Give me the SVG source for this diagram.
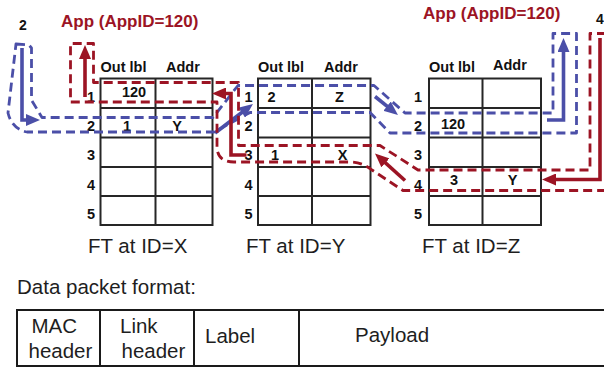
<svg xmlns="http://www.w3.org/2000/svg" width="604" height="368" viewBox="0 0 604 368">
  <style>
    .grid { fill: none; stroke: #262626; stroke-width: 2; }
    .hdr { font-family: "Liberation Sans", Arial, sans-serif; font-size: 14.5px; font-weight: bold; fill: #111; }
    .num { font-family: "Liberation Sans", Arial, sans-serif; font-size: 14.5px; font-weight: bold; fill: #111; text-anchor: end; }
    .cell { font-family: "Liberation Sans", Arial, sans-serif; font-size: 14.5px; font-weight: bold; fill: #111; text-anchor: middle; }
    .cap { font-family: "Liberation Sans", Arial, sans-serif; font-size: 20.5px; fill: #1e1e1e; }
    .app { font-family: "Liberation Sans", Arial, sans-serif; font-size: 17px; font-weight: bold; fill: #9c1424; }
    .hop { font-family: "Liberation Sans", Arial, sans-serif; font-size: 14px; font-weight: bold; fill: #111; }
    .pkt { fill: none; stroke: #1a1a1a; stroke-width: 2; }
    .dash-blue { fill: none; stroke: #4b4fa8; stroke-width: 2.8; stroke-dasharray: 9 5; stroke-linejoin: round; }
    .dash-red { fill: none; stroke: #9c1424; stroke-width: 2.8; stroke-dasharray: 9 5; stroke-linejoin: round; }
    .arrow-blue { fill: none; stroke: #4b4fa8; stroke-width: 3.6; marker-end: url(#head-blue); }
    .arrow-red { fill: none; stroke: #9c1424; stroke-width: 3.6; marker-end: url(#head-red); }
  </style>
  <defs>
    <marker id="head-blue" markerUnits="userSpaceOnUse" markerWidth="14" markerHeight="12" refX="7" refY="6" orient="auto">
      <path d="M0,0 L14,6 L0,12 z" fill="#4b4fa8"/>
    </marker>
    <marker id="head-red" markerUnits="userSpaceOnUse" markerWidth="14" markerHeight="12" refX="7" refY="6" orient="auto">
      <path d="M0,0 L14,6 L0,12 z" fill="#9c1424"/>
    </marker>
  </defs>
  <rect width="604" height="368" fill="#ffffff"/>

  <!-- forwarding table at node X -->
  <g id="ft-x">
    <rect class="grid" x="100.5" y="78.5" width="112" height="146.5"/>
    <path class="grid" d="M155.5,78.5 V225 M100.5,108 H212.5 M100.5,137.5 H212.5 M100.5,167 H212.5 M100.5,196 H212.5"/>
    <text class="hdr" x="100.5" y="71.7">Out lbl</text>
    <text class="hdr" x="166" y="71.7">Addr</text>
    <text class="num" x="95" y="101.5">1</text>
    <text class="num" x="95" y="130.5">2</text>
    <text class="num" x="95" y="160">3</text>
    <text class="num" x="95" y="189.5">4</text>
    <text class="num" x="95" y="219">5</text>
    <text class="cell" x="134" y="97">120</text>
    <text class="cell" x="127" y="131">1</text>
    <text class="cell" x="177" y="131">Y</text>
    <text class="cap" x="88" y="253">FT at ID=X</text>
  </g>

  <!-- forwarding table at node Y -->
  <g id="ft-y">
    <rect class="grid" x="258" y="78.5" width="112.5" height="146.5"/>
    <path class="grid" d="M312,78.5 V225 M258,108 H370.5 M258,137.5 H370.5 M258,167 H370.5 M258,196 H370.5"/>
    <text class="hdr" x="258" y="71.7">Out lbl</text>
    <text class="hdr" x="324" y="71.7">Addr</text>
    <text class="num" x="252.5" y="101.5">1</text>
    <text class="num" x="252.5" y="130.5">2</text>
    <text class="num" x="252.5" y="160">3</text>
    <text class="num" x="252.5" y="189.5">4</text>
    <text class="num" x="252.5" y="219">5</text>
    <text class="cell" x="271.5" y="101.5">2</text>
    <text class="cell" x="339.5" y="101.5">Z</text>
    <text class="cell" x="275" y="159.5">1</text>
    <text class="cell" x="342.5" y="159.5">X</text>
    <text class="cap" x="246" y="253">FT at ID=Y</text>
  </g>

  <!-- forwarding table at node Z -->
  <g id="ft-z">
    <rect class="grid" x="429" y="78.5" width="112" height="146.5"/>
    <path class="grid" d="M482.5,78.5 V225 M429,108 H541 M429,137.5 H541 M429,167 H541 M429,196 H541"/>
    <text class="hdr" x="429" y="71.7">Out lbl</text>
    <text class="hdr" x="493" y="70">Addr</text>
    <text class="num" x="422" y="101.5">1</text>
    <text class="num" x="422" y="130.5">2</text>
    <text class="num" x="422" y="160">3</text>
    <text class="num" x="422" y="189.5">4</text>
    <text class="num" x="422" y="219">5</text>
    <text class="cell" x="453" y="128.5">120</text>
    <text class="cell" x="454" y="185">3</text>
    <text class="cell" x="512.5" y="185">Y</text>
    <text class="cap" x="422" y="253">FT at ID=Z</text>
  </g>

  <!-- application endpoints and hop labels -->
  <g id="app-x">
    <text class="app" x="61" y="27">App (AppID=120)</text>
  </g>
  <g id="app-z">
    <text class="app" x="423" y="19">App (AppID=120)</text>
  </g>
  <g id="hop-labels">
    <text class="hop" x="19" y="30">2</text>
    <text class="hop" x="596" y="24">4</text>
  </g>

  <!-- label-switched paths -->
  <g id="connectors">
    <!-- blue path: X to Z -->
    <path class="dash-blue" d="M16,44 L29,45 L31.5,48 V100 L42,117.5 H213 L238,85.5 H374 L405,113 H553 V33.5 H576.5 V133 H390 L370,112.5 H250 L214,132 H27 Q12,129 8,113 L16,44 Z"/>
    <path class="arrow-blue" d="M22,48 V120 H33"/>
    <path class="arrow-blue" d="M215,133 L247.4,108.2"/>
    <path class="arrow-blue" d="M375,96.5 L392.5,110.6"/>
    <path class="arrow-blue" d="M547,120 H563.5 V45"/>

    <!-- red path: Z back to X -->
    <path class="dash-red" d="M606,33.5 H590 V170 H418 L380,145.5 H238.5 V82.5 H93.5 V43.5 H70.5 V102 H217 V148 Q218,162 234,162 H350 Q362,162 372,170 L403,190.5 H606"/>
    <path class="arrow-red" d="M85,97 V52"/>
    <path class="arrow-red" d="M246.5,155 H231 V93.5 H219"/>
    <path class="arrow-red" d="M405,180.5 L380.2,158.2"/>
    <path class="arrow-red" d="M600,38 V179.5 H549"/>
  </g>

  <!-- data packet layout -->
  <g id="packet-format">
    <text class="cap" x="17" y="294">Data packet format:</text>
    <rect class="pkt" x="17" y="310" width="600" height="56"/>
    <path class="pkt" d="M100,310 V366 M194,310 V366 M299,310 V366"/>
    <text class="cap" x="31.5" y="333">MAC</text>
    <text class="cap" x="28.5" y="358">header</text>
    <text class="cap" x="120" y="332.5">Link</text>
    <text class="cap" x="121.5" y="358">header</text>
    <text class="cap" x="205" y="343">Label</text>
    <text class="cap" x="355" y="341.5">Payload</text>
  </g>
</svg>
